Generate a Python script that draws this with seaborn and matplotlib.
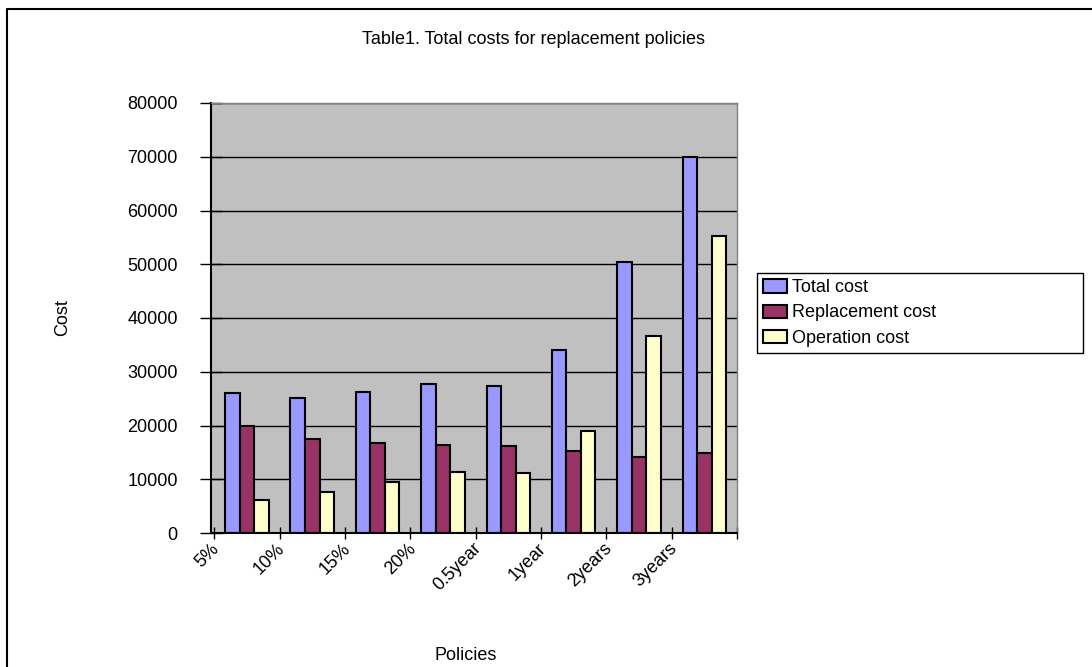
import matplotlib
matplotlib.use("Agg")
import matplotlib.pyplot as plt
import numpy as np
import pandas as pd
import seaborn as sns
from matplotlib.lines import Line2D
from matplotlib.patches import Patch

# data
policies = ["5%", "10%", "15%", "20%", "0.5year", "1year", "2years", "3years"]
total_cost = [26000, 25200, 26200, 27700, 27300, 34100, 50500, 69900]
replacement_cost = [20000, 17400, 16800, 16300, 16100, 15200, 14100, 14800]
operation_cost = [6100, 7600, 9500, 11300, 11100, 18900, 36600, 55200]
series_names = ["Total cost", "Replacement cost", "Operation cost"]
colors = ["#9999FF", "#993366", "#FFFFCC"]

df = pd.DataFrame({
    "policy": policies * 3,
    "cost": total_cost + replacement_cost + operation_cost,
    "series": [s for s in series_names for _ in policies],
})

sns.set_style("white")
plt.rcParams["font.family"] = ["Liberation Sans", "DejaVu Sans"]
plt.rcParams["text.color"] = "black"
plt.rcParams["axes.labelcolor"] = "black"
plt.rcParams["xtick.color"] = "black"
plt.rcParams["ytick.color"] = "black"

fig = plt.figure(figsize=(10.92, 6.67), dpi=100)
ax = fig.add_axes([211 / 1092, 1 - 533 / 667, (737 - 211) / 1092, (533 - 103) / 667])
ax.set_facecolor("#C0C0C0")

sns.barplot(data=df, x="policy", y="cost", hue="series", order=policies,
            hue_order=series_names, palette=colors, width=0.667, gap=0,
            edgecolor="black", linewidth=1.5, saturation=1, ax=ax, legend=False)

ax.set_xlim(-0.5, len(policies) - 0.5)
ax.set_ylim(0, 80000)
ax.set_yticks(np.arange(0, 80001, 10000))
ax.yaxis.grid(True, color="black", linewidth=1)
ax.set_axisbelow(True)

# tick marks at category boundaries, labels placed separately (Excel style)
ax.set_xticks(np.arange(-0.5, len(policies)), labels=[""] * (len(policies) + 1))
ax.set_xticks(np.arange(len(policies)) - 0.55, labels=policies, minor=True)
ax.tick_params(axis="x", which="major", bottom=True, direction="inout", length=9,
               width=1, color="black")
ax.tick_params(axis="x", which="minor", bottom=True, length=0, pad=5, labelsize=13,
               labelcolor="black")
for lab in ax.get_xticklabels(minor=True):
    lab.set_rotation(45)
    lab.set_ha("right")
    lab.set_va("top")
    lab.set_rotation_mode("anchor")

ax.tick_params(axis="y", left=True, direction="inout", length=16, width=1,
               color="black", labelsize=13, pad=16, labelcolor="black")

for side in ["left", "bottom"]:
    ax.spines[side].set_color("black")
    ax.spines[side].set_linewidth(1.5)
for side in ["top", "right"]:
    ax.spines[side].set_color("#808080")
    ax.spines[side].set_linewidth(1)

ax.set_xlabel("Policies", fontsize=13, labelpad=0)
ax.xaxis.set_label_coords(0.485, -0.265)
ax.set_ylabel("Cost", fontsize=13)
ax.yaxis.set_label_coords(-0.265, 0.5)

fig.text(534 / 1092, 1 - 40 / 667, "Table1. Total costs for replacement policies",
         ha="center", va="center", fontsize=13)

handles = [Patch(facecolor=c, edgecolor="black", linewidth=1.5) for c in colors]
leg = fig.legend(handles, series_names, loc="upper left",
                 bbox_to_anchor=(757 / 1092, 1 - 367 / 667, (1083 - 757) / 1092, 94 / 667),
                 mode="expand", fontsize=13, frameon=True, fancybox=False,
                 edgecolor="black", framealpha=1, borderpad=0.35, labelspacing=0.45,
                 handlelength=1.3, handleheight=0.75, handletextpad=0.3,
                 borderaxespad=0)
leg.get_frame().set_linewidth(1)

# outer chart border (left and top edges)
fig.add_artist(Line2D([7 / 1092, 7 / 1092, 1], [0, 1 - 9 / 667, 1 - 9 / 667],
                      color="black", linewidth=1.5, transform=fig.transFigure))

fig.savefig("out.png", dpi=100)
